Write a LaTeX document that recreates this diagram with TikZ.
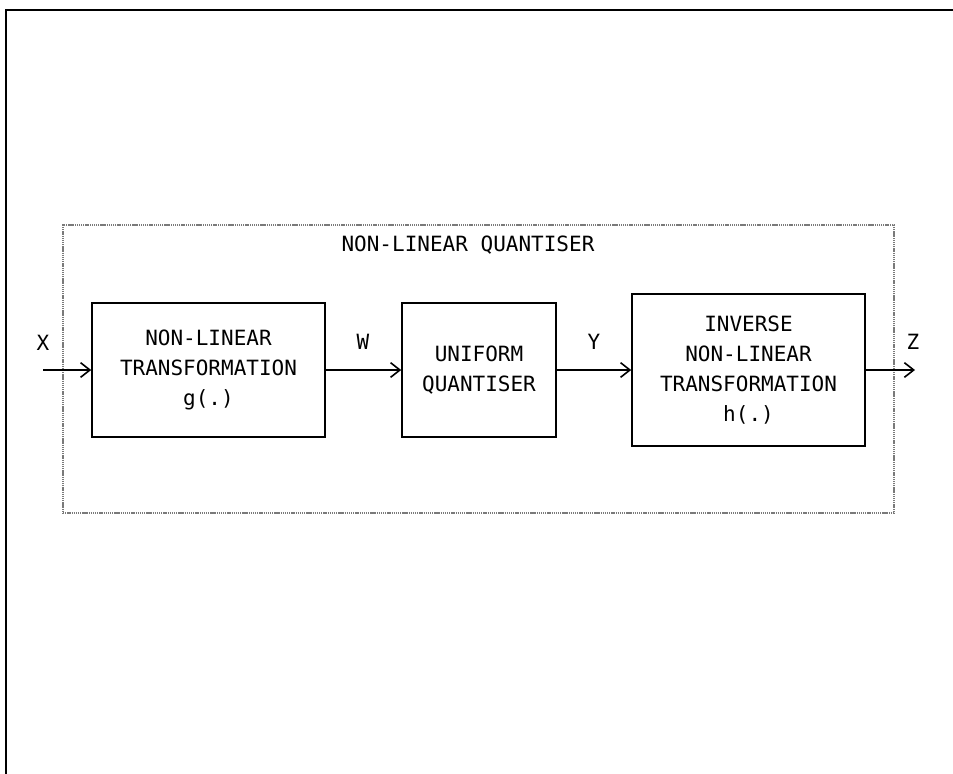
\documentclass[tikz,border=0pt]{standalone}
\usepackage{fontspec}
\setmonofont{DejaVu Sans Mono}
\usepackage{tikz}
\usetikzlibrary{arrows.meta,positioning}
\definecolor{framegray}{HTML}{7A7A7A}

\begin{document}
\begin{tikzpicture}[x=0.75pt, y=-0.75pt, >={Straight Barb[length=7pt,width=11pt]},
  every node/.style={font=\ttfamily\fontsize{15.75}{22.5}\selectfont, align=center, inner sep=0pt},
  blockbox/.style={draw, line width=1.2pt, minimum height=100.5pt},
  sig/.style={->, line width=1.2pt}]
  \useasboundingbox (0,0) rectangle (953,774);
  % page frame
  \draw[line width=1.6pt] (953,10) -- (6,10) -- (6,774);
  % quantiser outline
  \node[draw=framegray, line width=1.5pt, dash pattern=on 1pt off 0.6pt, minimum width=623.25pt, minimum height=216pt] (nlq) at (478.5,369) {};
  \node (title) at (468,245) {NON-LINEAR QUANTISER};
  \node[blockbox, minimum width=174.75pt] (g) at (208.5,370) {NON-LINEAR\\TRANSFORMATION\\g(.)};
  \node[blockbox, minimum width=115.5pt] (q) at (479,370) {UNIFORM\\QUANTISER};
  \node[blockbox, minimum width=174.75pt, minimum height=114pt] (h) at (748.5,370) {INVERSE\\NON-LINEAR\\TRANSFORMATION\\h(.)};
  \coordinate (in) at (43,370);
  \coordinate (out) at (915,370);
  \draw[sig] (in) -- (g);
  \draw[sig] (g) -- (q);
  \draw[sig] (q) -- (h);
  \draw[sig] (h) -- (out);
  % signal labels
  \node (lx) at (43,343) {X};
  \node (lw) at (363,342) {W};
  \node (ly) at (594,342) {Y};
  \node (lz) at (913,342) {Z};
\end{tikzpicture}
\end{document}
